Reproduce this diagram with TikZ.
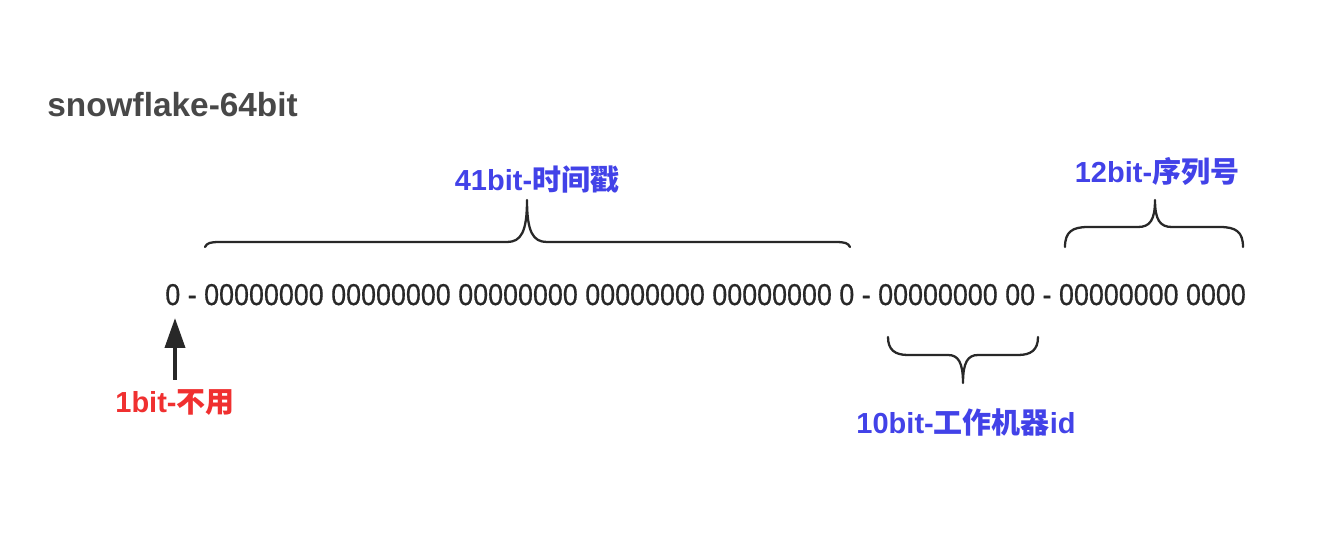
\documentclass[tikz,border=0pt]{standalone}
\usepackage{fontspec}
\setmainfont{Liberation Sans}
\newfontfamily\cjk{Noto Sans CJK SC}
\newfontfamily\bitfont{Liberation Sans}[FakeBold=0.6]
\usetikzlibrary{arrows.meta}
\definecolor{idblue}{RGB}{66,66,232}
\definecolor{idred}{RGB}{240,48,48}
\definecolor{ink}{RGB}{40,40,40}

\begin{document}
\begin{tikzpicture}[x=0.02cm,y=-0.02cm,>={Triangle[length=0.6cm,width=0.4cm]},
		brace/.style={draw=ink,line width=1.3pt,line cap=round,line join=round},
		lab/.style={font=\fontsize{16.5}{18}\selectfont\bfseries,inner sep=0pt,anchor=base}]
		\useasboundingbox[fill=white] (0,0) rectangle (1332,534);
		
		\node[anchor=base west,inner sep=0pt,text=ink!85,font=\fontsize{19}{22}\selectfont\bfseries] (title) at (47,116) {snowflake-64bit};
		
		\node[anchor=base west,inner sep=0pt,text=ink,font=\fontsize{15.3}{18}\bitfont] (bits) at (165,305)
			{\scalebox{1}[1.12]{0 - 00000000 00000000 00000000 00000000 00000000 0 - 00000000 00 - 00000000 0000}};
		
		\node[lab,text=idblue] (time) at (537,190) {41bit-{\cjk 时间戳}};
		\node[lab,text=idblue] (seq) at (1157,182) {12bit-{\cjk 序列号}};
		\node[lab,text=idblue] (worker) at (966,433) {10bit-{\cjk 工作机器}id};
		\node[lab,text=idred] (unused) at (175,412) {1bit-{\cjk 不用}};
		
		% braces
		\draw[brace] (205,247) .. controls (207,243) and (210,242) .. (220,242) -- (507,242)
			.. controls (521,242) and (527,232) .. (527,200)
			.. controls (527,232) and (533,242) .. (547,242) -- (835,242)
			.. controls (845,242) and (848,243) .. (850,247);
		\draw[brace] (1065,247) .. controls (1065,232) and (1072,227) .. (1088,227) -- (1138,227)
			.. controls (1150,227) and (1155,220) .. (1155,200)
			.. controls (1155,220) and (1160,227) .. (1172,227) -- (1220,227)
			.. controls (1236,227) and (1243,232) .. (1243,247);
		\draw[brace] (888,337) .. controls (888,350) and (895,355) .. (908,355) -- (948,355)
			.. controls (958,355) and (963,362) .. (963,383)
			.. controls (963,362) and (968,355) .. (978,355) -- (1018,355)
			.. controls (1031,355) and (1038,350) .. (1038,337);
		
		\coordinate (sign) at (175,318);
		\draw[->,line width=2.2pt,ink,shorten <=0.18cm] (unused.north) -- (sign);
	\end{tikzpicture}
\end{document}
